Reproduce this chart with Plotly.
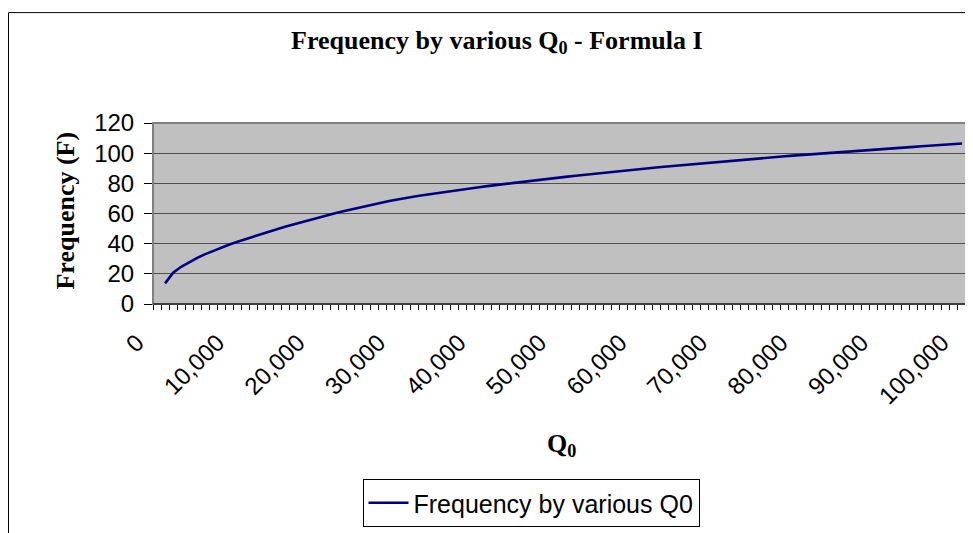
import plotly.graph_objects as go

# Q0 categories (0 .. 100,000 step 1,000); the 0 category has no value
q_values = [1000 * i for i in range(1, 101)]
frequency = [
    13.7, 20.7, 24.7, 27.9, 30.6, 33.1, 35.4, 37.5, 39.5, 41.3,
    43.1, 44.85, 46.55, 48.2, 49.8, 51.35, 52.87, 54.37, 55.84, 57.3,
    58.65, 60.0, 61.3, 62.57, 63.8, 65.0, 66.17, 67.31, 68.41, 69.5,
    70.38, 71.24, 72.08, 72.9, 73.7, 74.48, 75.25, 76.0, 76.73, 77.44,
    78.14, 78.82, 79.48, 80.13, 80.77, 81.4, 82.03, 82.65, 83.26, 83.87,
    84.47, 85.07, 85.66, 86.25, 86.83, 87.41, 87.98, 88.51, 89.03, 89.54,
    90.05, 90.55, 91.05, 91.54, 92.03, 92.51, 92.99, 93.46, 93.93, 94.39,
    94.85, 95.3, 95.75, 96.19, 96.63, 97.07, 97.5, 97.93, 98.36, 98.78,
    99.2, 99.6, 100.0, 100.39, 100.78, 101.17, 101.55, 101.93, 102.31, 102.69,
    103.06, 103.43, 103.8, 104.17, 104.54, 104.91, 105.28, 105.65, 106.01, 106.37,
]
x_tick_vals = [0, 10000, 20000, 30000, 40000, 50000, 60000, 70000, 80000, 90000, 100000]
x_tick_text = ["0", "10,000", "20,000", "30,000", "40,000", "50,000",
               "60,000", "70,000", "80,000", "90,000", "100,000"]
y_tick_vals = [0, 20, 40, 60, 80, 100, 120]

# page body has an 8px margin: size the figure so it ends at the window edge
OFF = 8
W, H = 973 - OFF, 533 - OFF
L, R, T, B = 145, 7, 115, 228
pw, ph = W - L - R, H - T - B


def px_x(x_ref):
    return (x_ref - OFF - L) / pw


def px_y(y_ref):
    return (H - B - (y_ref - OFF)) / ph


fig = go.Figure()
fig.add_trace(go.Scatter(
    x=q_values, y=frequency, mode="lines",
    name="Frequency by various Q0",
    line=dict(color="#000080", width=2.6),
))

serif = "Liberation Serif, Times New Roman, serif"
sans = "Liberation Sans, Arial, sans-serif"

fig.update_layout(
    width=W, height=H,
    margin=dict(l=L, r=R, t=T, b=B),
    paper_bgcolor="white",
    plot_bgcolor="#C0C0C0",
    showlegend=True,
    legend=dict(
        x=px_x(531), y=px_y(479), xanchor="center", yanchor="top",
        bordercolor="black", borderwidth=1, bgcolor="white",
        font=dict(family=sans, size=25, color="black"),
        itemwidth=40,
    ),
    xaxis=dict(
        range=[-500, 100500],
        tickvals=x_tick_vals, ticktext=x_tick_text,
        tickangle=-45, ticks="", showgrid=False, zeroline=False,
        showline=True, linecolor="black", linewidth=1,
        tickfont=dict(family=sans, size=24, color="black"),
        ticklabelshift=-20, ticklabelstandoff=14,
        minor=dict(ticks="outside", ticklen=5, tickcolor="black",
                   tick0=-500, dtick=1000, showgrid=False),
    ),
    yaxis=dict(
        range=[0, 120], tickvals=y_tick_vals,
        ticks="outside", ticklen=8, tickcolor="black",
        showgrid=True, gridcolor="#505050", gridwidth=1, zeroline=False,
        showline=True, linecolor="black", linewidth=1,
        tickfont=dict(family=sans, size=24, color="black"),
        ticklabelstandoff=5,
    ),
    shapes=[
        dict(type="rect", xref="paper", yref="paper",
             x0=0, x1=1, y0=0, y1=1,
             line=dict(color="#808080", width=2), layer="above"),
        dict(type="line", xref="paper", yref="paper",
             x0=0, x1=1, y0=0, y1=0,
             line=dict(color="black", width=1), layer="above"),
        dict(type="rect", xref="paper", yref="paper",
             x0=px_x(8.5), x1=px_x(969), y0=px_y(12), y1=px_y(560),
             line=dict(color="black", width=1), layer="below"),
    ],
    annotations=[
        dict(text="<b>Frequency by various Q<sub>0</sub> - Formula I</b>",
             xref="paper", yref="paper", x=px_x(497), y=px_y(42),
             xanchor="center", yanchor="middle", showarrow=False,
             font=dict(family=serif, size=26, color="black")),
        dict(text="<b>Frequency (F)</b>",
             xref="paper", yref="paper", x=px_x(66), y=px_y(211),
             xanchor="center", yanchor="middle", showarrow=False, textangle=-90,
             font=dict(family=serif, size=26, color="black")),
        dict(text="<b>Q<sub>0</sub></b>",
             xref="paper", yref="paper", x=px_x(561), y=px_y(447),
             xanchor="center", yanchor="middle", showarrow=False,
             font=dict(family=serif, size=26, color="black")),
    ],
)

fig.write_html("out.html")
